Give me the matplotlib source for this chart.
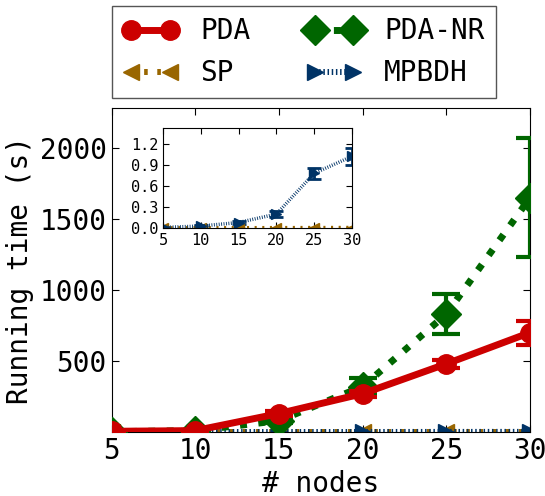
import matplotlib
matplotlib.use('Agg')
import matplotlib.pyplot as plt

plt.rcParams['font.family'] = ['DejaVu Sans Mono']

nodes = [5, 10, 15, 20, 25, 30]

# running times (s)
pda = [5, 10, 130, 270, 480, 700]
pda_err = [2, 5, 15, 20, 30, 85]
pda_nr = [2, 10, 80, 320, 830, 1650]
pda_nr_err = [1, 5, 15, 60, 140, 420]
sp = [0.004, 0.005, 0.006, 0.007, 0.008, 0.009]
sp_err = [0.001, 0.001, 0.002, 0.002, 0.002, 0.002]
mpbdh = [0.01, 0.03, 0.08, 0.2, 0.78, 1.02]
mpbdh_err = [0.005, 0.01, 0.015, 0.04, 0.08, 0.12]

c_pda = '#cc0000'
c_nr = '#006600'
c_sp = '#996600'
c_mp = '#003366'

ls_sp = (0, (0.6, 1.6))
ls_mp = (0, (0.25, 0.45))

fig = plt.figure(figsize=(5.45, 4.96), dpi=100)
ax = fig.add_axes([0.2046, 0.129, 0.768, 0.653])

e_nr = ax.errorbar(nodes, pda_nr, yerr=pda_nr_err, color=c_nr, ls=':', lw=5, marker='D',
                   ms=15, capsize=10, capthick=3, elinewidth=3, zorder=3)
e_sp = ax.errorbar(nodes, sp, yerr=sp_err, color=c_sp, ls=ls_sp, lw=4.3, marker='<',
                   ms=12, capsize=6, zorder=2)
e_mp = ax.errorbar(nodes, mpbdh, yerr=mpbdh_err, color=c_mp, ls=ls_mp, lw=4.3, marker='>',
                   ms=12, capsize=6, zorder=2)
e_pda = ax.errorbar(nodes, pda, yerr=pda_err, color=c_pda, ls='-', lw=5, marker='o',
                    ms=14, capsize=10, capthick=3, elinewidth=3, zorder=4)

ax.set_xlim(5, 30)
ax.set_ylim(0, 2280)
ax.set_xticks(nodes)
ax.set_yticks([500, 1000, 1500, 2000])
ax.tick_params(direction='in', top=True, right=True, labelsize=20, length=5)
ax.set_xlabel('# nodes', fontsize=20)
ax.set_ylabel('Running time (s)', fontsize=20)

handles = [e_pda[0], e_sp[0], e_nr[0], e_mp[0]]
labels = ['PDA', 'SP', 'PDA-NR', 'MPBDH']
ax.legend(handles, labels, ncol=2, fontsize=20,
          loc='lower left', bbox_to_anchor=(0, 1.03), borderaxespad=0,
          fancybox=False, edgecolor='#555555', framealpha=1, numpoints=2,
          handlelength=2.0, columnspacing=2.0)

# inset
ins = fig.add_axes([0.299, 0.540, 0.347, 0.2016])
ins.errorbar(nodes, sp, yerr=sp_err, color=c_sp, ls=ls_sp, lw=2.5, marker='<',
             ms=7, capsize=4)
ins.errorbar(nodes, mpbdh, yerr=mpbdh_err, color=c_mp, ls=ls_mp, lw=2.5, marker='>',
             ms=7, capsize=5, capthick=2, elinewidth=2)
ins.set_xlim(5, 30)
ins.set_ylim(0, 1.42)
ins.set_xticks(nodes)
ins.set_yticks([0.0, 0.3, 0.6, 0.9, 1.2])
ins.tick_params(direction='in', top=True, right=True, labelsize=11, length=4)

fig.savefig('out.png', dpi=100)
